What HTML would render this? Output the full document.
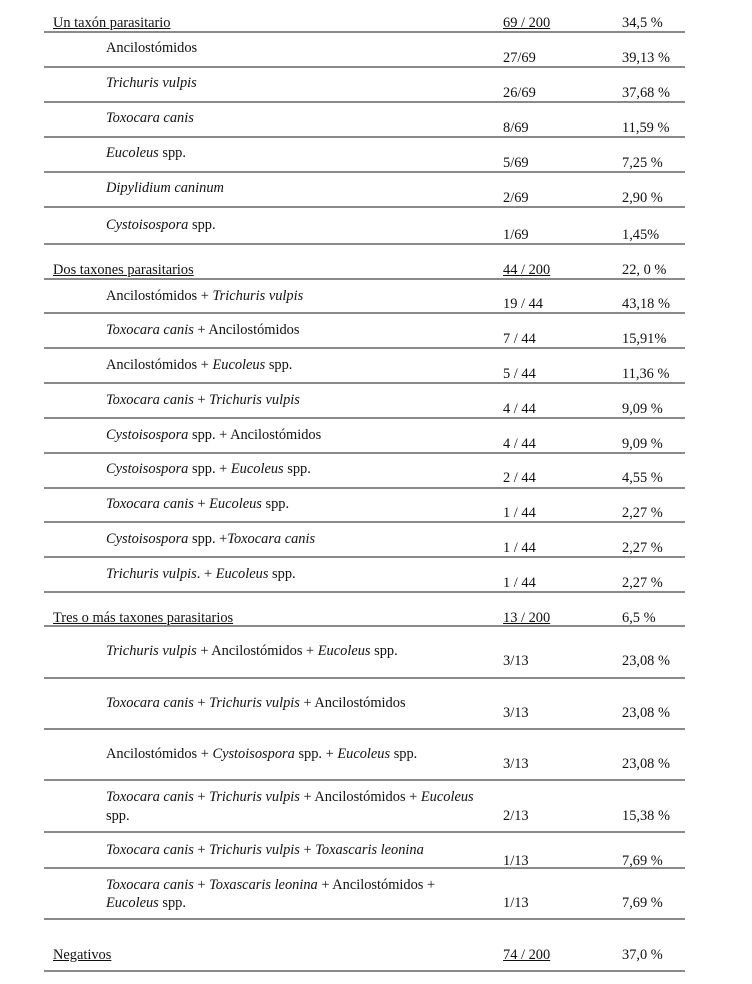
<!DOCTYPE html>
<html><head><meta charset="utf-8"><style>
body{margin:0;background:#fff;width:752px;height:984px;position:relative;overflow:hidden;font-family:"Liberation Serif",serif;font-size:14.4px;color:#111}
.t{position:absolute;line-height:16px;white-space:nowrap;margin-top:1px}
.l{position:absolute;left:44px;width:641px;height:2px;background:#8a8a8a}
u{text-decoration:underline}
</style></head><body>
<div class="t" style="left:53px;top:14px"><u>Un taxón parasitario</u></div><div class="t" style="left:503px;top:14px"><u>69 / 200</u></div><div class="t" style="left:622px;top:14px">34,5 %</div><div class="l" style="top:31px"></div>
<div class="t" style="left:106px;top:39px">Ancilostómidos</div><div class="t" style="left:503px;top:49px">27/69</div><div class="t" style="left:622px;top:49px">39,13 %</div><div class="l" style="top:66px"></div>
<div class="t" style="left:106px;top:74px"><i>Trichuris vulpis</i></div><div class="t" style="left:503px;top:84px">26/69</div><div class="t" style="left:622px;top:84px">37,68 %</div><div class="l" style="top:101px"></div>
<div class="t" style="left:106px;top:109px"><i>Toxocara canis</i></div><div class="t" style="left:503px;top:119px">8/69</div><div class="t" style="left:622px;top:119px">11,59 %</div><div class="l" style="top:136px"></div>
<div class="t" style="left:106px;top:144px"><i>Eucoleus</i> spp.</div><div class="t" style="left:503px;top:154px">5/69</div><div class="t" style="left:622px;top:154px">7,25 %</div><div class="l" style="top:171px"></div>
<div class="t" style="left:106px;top:179px"><i>Dipylidium caninum</i></div><div class="t" style="left:503px;top:189px">2/69</div><div class="t" style="left:622px;top:189px">2,90 %</div><div class="l" style="top:206px"></div>
<div class="t" style="left:106px;top:216px"><i>Cystoisospora</i> spp.</div><div class="t" style="left:503px;top:226px">1/69</div><div class="t" style="left:622px;top:226px">1,45%</div><div class="l" style="top:243px"></div>
<div class="t" style="left:53px;top:261px"><u>Dos taxones parasitarios</u></div><div class="t" style="left:503px;top:261px"><u>44 / 200</u></div><div class="t" style="left:622px;top:261px">22, 0 %</div><div class="l" style="top:278px"></div>
<div class="t" style="left:106px;top:287px">Ancilostómidos + <i>Trichuris vulpis</i></div><div class="t" style="left:503px;top:295px">19 / 44</div><div class="t" style="left:622px;top:295px">43,18 %</div><div class="l" style="top:312px"></div>
<div class="t" style="left:106px;top:321px"><i>Toxocara canis</i> + Ancilostómidos</div><div class="t" style="left:503px;top:330px">7 / 44</div><div class="t" style="left:622px;top:330px">15,91%</div><div class="l" style="top:347px"></div>
<div class="t" style="left:106px;top:356px">Ancilostómidos + <i>Eucoleus</i> spp.</div><div class="t" style="left:503px;top:365px">5 / 44</div><div class="t" style="left:622px;top:365px">11,36 %</div><div class="l" style="top:382px"></div>
<div class="t" style="left:106px;top:391px"><i>Toxocara canis</i> + <i>Trichuris vulpis</i></div><div class="t" style="left:503px;top:400px">4 / 44</div><div class="t" style="left:622px;top:400px">9,09 %</div><div class="l" style="top:417px"></div>
<div class="t" style="left:106px;top:426px"><i>Cystoisospora</i> spp. + Ancilostómidos</div><div class="t" style="left:503px;top:435px">4 / 44</div><div class="t" style="left:622px;top:435px">9,09 %</div><div class="l" style="top:452px"></div>
<div class="t" style="left:106px;top:460px"><i>Cystoisospora</i> spp. + <i>Eucoleus</i> spp.</div><div class="t" style="left:503px;top:469px">2 / 44</div><div class="t" style="left:622px;top:469px">4,55 %</div><div class="l" style="top:487px"></div>
<div class="t" style="left:106px;top:495px"><i>Toxocara canis</i> + <i>Eucoleus</i> spp.</div><div class="t" style="left:503px;top:504px">1 / 44</div><div class="t" style="left:622px;top:504px">2,27 %</div><div class="l" style="top:521px"></div>
<div class="t" style="left:106px;top:530px"><i>Cystoisospora</i> spp. +<i>Toxocara canis</i></div><div class="t" style="left:503px;top:539px">1 / 44</div><div class="t" style="left:622px;top:539px">2,27 %</div><div class="l" style="top:556px"></div>
<div class="t" style="left:106px;top:565px"><i>Trichuris vulpis</i>. + <i>Eucoleus</i> spp.</div><div class="t" style="left:503px;top:574px">1 / 44</div><div class="t" style="left:622px;top:574px">2,27 %</div><div class="l" style="top:591px"></div>
<div class="t" style="left:53px;top:609px"><u>Tres o más taxones parasitarios</u></div><div class="t" style="left:503px;top:609px"><u>13 / 200</u></div><div class="t" style="left:622px;top:609px">6,5 %</div><div class="l" style="top:625px"></div>
<div class="t" style="left:106px;top:642px"><i>Trichuris vulpis</i> + Ancilostómidos + <i>Eucoleus</i> spp.</div><div class="t" style="left:503px;top:652px">3/13</div><div class="t" style="left:622px;top:652px">23,08 %</div><div class="l" style="top:677px"></div>
<div class="t" style="left:106px;top:694px"><i>Toxocara canis</i> + <i>Trichuris vulpis</i> + Ancilostómidos</div><div class="t" style="left:503px;top:704px">3/13</div><div class="t" style="left:622px;top:704px">23,08 %</div><div class="l" style="top:728px"></div>
<div class="t" style="left:106px;top:745px">Ancilostómidos + <i>Cystoisospora</i> spp. + <i>Eucoleus</i> spp.</div><div class="t" style="left:503px;top:755px">3/13</div><div class="t" style="left:622px;top:755px">23,08 %</div><div class="l" style="top:779px"></div>
<div class="t" style="left:106px;top:788px"><i>Toxocara canis</i> + <i>Trichuris vulpis</i> + Ancilostómidos + <i>Eucoleus</i></div><div class="t" style="left:106px;top:807px">spp.</div><div class="t" style="left:503px;top:807px">2/13</div><div class="t" style="left:622px;top:807px">15,38 %</div><div class="l" style="top:831px"></div>
<div class="t" style="left:106px;top:841px"><i>Toxocara canis</i> + <i>Trichuris vulpis</i> + <i>Toxascaris leonina</i></div><div class="t" style="left:503px;top:852px">1/13</div><div class="t" style="left:622px;top:852px">7,69 %</div><div class="l" style="top:867px"></div>
<div class="t" style="left:106px;top:876px"><i>Toxocara canis</i> + <i>Toxascaris leonina</i> + Ancilostómidos +</div><div class="t" style="left:106px;top:894px"><i>Eucoleus</i> spp.</div><div class="t" style="left:503px;top:894px">1/13</div><div class="t" style="left:622px;top:894px">7,69 %</div><div class="l" style="top:918px"></div>
<div class="t" style="left:53px;top:946px"><u>Negativos</u></div><div class="t" style="left:503px;top:946px"><u>74 / 200</u></div><div class="t" style="left:622px;top:946px">37,0 %</div><div class="l" style="top:970px"></div>
</body></html>
